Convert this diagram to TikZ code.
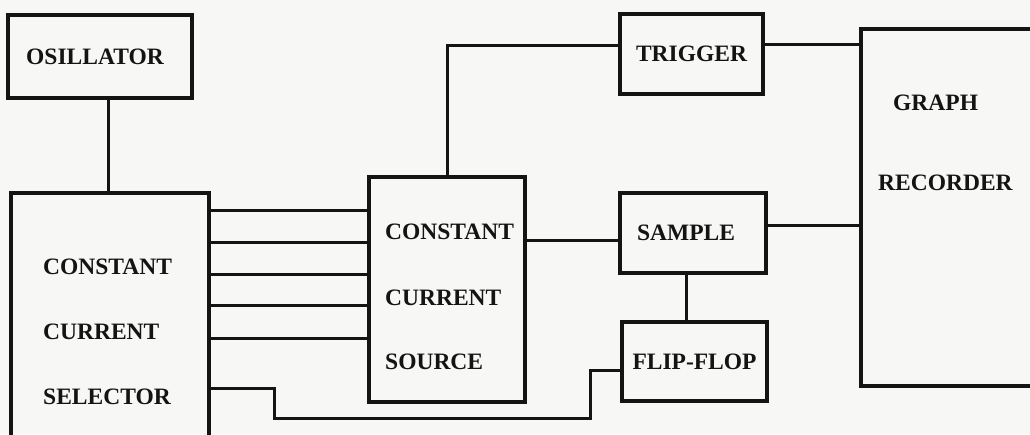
\documentclass[tikz,border=0pt]{standalone}
\usepackage{fontspec}
\setmainfont{Liberation Serif}
\definecolor{paper}{HTML}{F7F7F5}
\definecolor{ink}{HTML}{141414}
\begin{document}
\begin{tikzpicture}[x=1pt,y=-1pt,
  block/.style={draw=ink, line width=3.2pt, inner sep=0pt, font=\bfseries\fontsize{23.5}{23.5}\selectfont, text=ink},
  lbl/.style={inner sep=0pt, anchor=west, font=\bfseries\fontsize{23.5}{23.5}\selectfont, text=ink},
  wire/.style={draw=ink, line width=3pt}]
  \fill[paper] (0,0) rectangle (1030,434);
  \clip (0,0) rectangle (1030,434);

  % blocks
  \node[block, minimum width=184pt, minimum height=83pt] (osc) at (100,56.5) {\hspace*{-10pt}OSILLATOR};
  \node[block, minimum width=198pt, minimum height=277pt] (sel) at (110,331.5) {};
  \node[block, minimum width=156pt, minimum height=225pt] (ccs) at (447,289.5) {};
  \node[block, minimum width=143pt, minimum height=80pt] (trig) at (691.5,54) {TRIGGER};
  \node[block, minimum width=199pt, minimum height=357pt] (graph) at (960.5,207.5) {};
  \node[block, minimum width=146pt, minimum height=80pt] (samp) at (693,233) {\hspace*{-14pt}SAMPLE};
  \node[block, minimum width=145pt, minimum height=79pt] (ff) at (694.5,361.5) {FLIP-FLOP};

  % multi-line block captions
  \node[lbl] (sel1) at (43,267) {CONSTANT};
  \node[lbl] (sel2) at (43,332) {CURRENT};
  \node[lbl] (sel3) at (43,397) {SELECTOR};
  \node[lbl] (ccs1) at (385,232) {CONSTANT};
  \node[lbl] (ccs2) at (385,298) {CURRENT};
  \node[lbl] (ccs3) at (385,362) {SOURCE};
  \node[lbl] (gr1) at (893,103) {GRAPH};
  \node[lbl] (gr2) at (878,183) {RECORDER};

  % connections
  \draw[wire] ([xshift=8pt]osc.south) -- ([xshift=8pt]osc.south |- sel.north);
  \foreach \yy in {210,242,274,305,338}
    \draw[wire] (sel.east |- 0,\yy) -- (ccs.west |- 0,\yy);

  \coordinate (j1) at (274,418);
  \coordinate (j2) at (590,370);
  \draw[wire] (sel.east |- 0,388) -| (j1) -| (j2) -- (ff.west |- j2);

  \coordinate (t1) at (447,45);
  \draw[wire] (ccs.north -| t1) -- (t1) -- (trig.west |- t1);
  \draw[wire] (trig.east |- 0,44) -- (graph.west |- 0,44);
  \draw[wire] (ccs.east |- 0,240) -- (samp.west |- 0,240);
  \draw[wire] (samp.east |- 0,225) -- (graph.west |- 0,225);
  \draw[wire] (samp.south -| 686,0) -- (ff.north -| 686,0);
\end{tikzpicture}
\end{document}
